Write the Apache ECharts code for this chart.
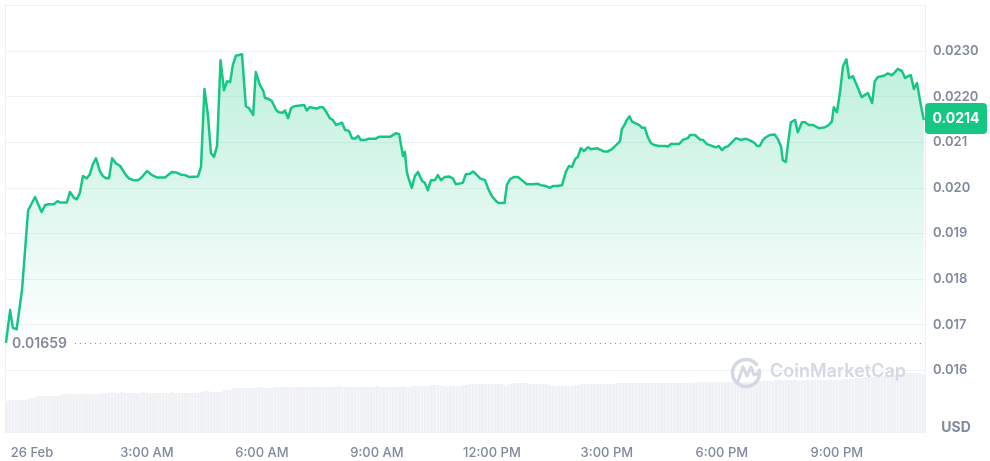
<!DOCTYPE html>
<html>
<head>
<meta charset="utf-8">
<style>html,body{margin:0;padding:0;background:#fff}#c{width:990px;height:461px}</style>
<script src="https://cdn.jsdelivr.net/npm/echarts@6/dist/echarts.min.js"></script>
</head>
<body>
<div id="c"></div>
<script>
const hours = [-0.68,-0.57,-0.50,-0.40,-0.26,-0.16,-0.10,0.08,0.25,0.34,0.42,0.57,0.67,0.73,0.91,0.99,1.10,1.17,1.25,1.33,1.43,1.51,1.59,1.67,1.77,1.85,1.93,2.01,2.09,2.19,2.30,2.45,2.53,2.64,2.77,2.87,3.00,3.13,3.26,3.47,3.65,3.76,3.89,3.99,4.10,4.33,4.41,4.50,4.59,4.67,4.75,4.83,4.92,5.01,5.09,5.17,5.24,5.32,5.48,5.58,5.66,5.77,5.84,5.95,6.03,6.08,6.18,6.26,6.37,6.44,6.55,6.60,6.68,6.76,6.84,7.10,7.17,7.25,7.44,7.51,7.59,7.67,7.77,7.85,7.93,8.09,8.17,8.27,8.35,8.43,8.51,8.58,8.69,8.79,8.97,9.05,9.34,9.39,9.50,9.58,9.68,9.73,9.78,9.84,9.91,9.99,10.07,10.18,10.25,10.33,10.41,10.51,10.59,10.67,10.77,10.88,10.98,11.06,11.24,11.32,11.43,11.51,11.61,11.69,11.82,11.92,12.00,12.11,12.18,12.33,12.39,12.47,12.58,12.68,12.78,12.91,13.07,13.18,13.28,13.41,13.51,13.59,13.70,13.75,13.83,13.93,14.01,14.09,14.17,14.24,14.32,14.40,14.51,14.58,14.74,14.85,14.92,15.03,15.13,15.24,15.34,15.39,15.47,15.52,15.59,15.65,15.73,15.84,15.91,15.99,16.07,16.15,16.23,16.28,16.36,16.51,16.59,16.67,16.88,16.93,16.98,17.11,17.17,17.30,17.35,17.43,17.51,17.61,17.74,17.85,17.92,18.00,18.08,18.16,18.26,18.37,18.42,18.50,18.58,18.65,18.76,18.86,18.92,18.99,19.07,19.15,19.25,19.38,19.46,19.54,19.59,19.67,19.72,19.80,19.91,19.98,20.09,20.17,20.27,20.38,20.43,20.53,20.69,20.79,20.87,20.92,21.00,21.08,21.16,21.25,21.32,21.42,21.52,21.65,21.81,21.92,21.99,22.07,22.23,22.33,22.44,22.59,22.70,22.78,22.85,22.93,23.01,23.09,23.19,23.27];
const pricesE5 = [1660,1732,1693,1690,1776,1886,1951,1980,1947,1962,1964,1964,1971,1968,1968,1991,1978,1975,1989,2026,2021,2030,2052,2065,2037,2026,2021,2021,2065,2054,2048,2028,2021,2017,2017,2024,2037,2028,2023,2023,2035,2034,2029,2028,2024,2025,2046,2217,2160,2076,2068,2092,2280,2214,2234,2232,2269,2290,2293,2179,2175,2160,2254,2225,2214,2197,2195,2190,2171,2166,2165,2170,2153,2175,2179,2182,2170,2177,2174,2177,2177,2168,2153,2149,2138,2143,2127,2125,2109,2108,2114,2105,2105,2108,2108,2112,2112,2108,2120,2118,2070,2079,2035,2017,2000,2026,2035,2015,2011,1995,2017,2017,2028,2017,2024,2025,2021,2008,2011,2030,2031,2036,2028,2021,2017,1995,1982,1971,1967,1967,2006,2019,2024,2024,2017,2008,2008,2009,2006,2004,2000,2004,2004,2000,2006,2035,2048,2046,2063,2068,2087,2081,2089,2085,2087,2083,2080,2080,2085,2094,2102,2129,2140,2149,2157,2146,2142,2138,2132,2132,2111,2098,2094,2097,2092,2092,2091,2096,2096,2098,2105,2109,2116,2116,2120,2106,2105,2096,2092,2089,2092,2083,2089,2091,2100,2109,2111,2105,2107,2107,2103,2098,2092,2092,2105,2111,2116,2117,2107,2092,2061,2057,2094,2144,2149,2122,2144,2144,2138,2138,2140,2131,2133,2138,2146,2177,2166,2208,2267,2282,2241,2245,2225,2199,2208,2186,2234,2243,2246,2251,2247,2261,2256,2241,2245,2247,2217,2230,2182,2149];
const volumes = [
32,33,33,33,33,33,33,34,35,36,
37,37,37,37,37,37,37,38,39,39,
39,39,39,39,39,39,39,39,39,39,
40,40,40,41,40,40,41,40,40,40,
40,40,40,41,40,40,40,40,40,40,
40,40,41,40,40,40,40,40,40,40,
40,41,42,42,41,41,41,41,43,43,
43,45,45,45,45,45,45,45,45,46,
46,45,45,45,46,46,46,46,46,45,
46,46,46,46,46,46,46,46,46,46,
46,46,46,46,47,46,46,46,46,46,
46,46,46,46,46,46,47,46,46,46,
46,46,46,46,47,46,46,47,47,47,
47,47,47,48,48,48,47,47,46,47,
47,47,47,48,48,49,49,49,49,49,
49,49,49,49,49,49,48,49,49,50,
50,50,50,50,49,49,49,49,49,49,
48,47,47,47,47,47,47,47,48,48,
49,49,49,49,49,49,49,49,49,49,
49,50,50,50,50,50,50,50,50,50,
50,50,50,50,50,50,50,50,50,50,
50,50,50,50,50,50,51,51,51,51,
51,51,51,51,51,51,51,51,51,51,
51,51,51,51,51,52,52,52,52,52,
52,53,53,53,53,53,53,53,53,53,
53,53,53,53,53,53,53,53,53,53,
53,53,54,54,54,54,55,55,55,56,
56,56,56,57,57,57,57,58,58,58,
59,60,60,60,60,60,60,59
];
const priceTicks = [0.024,0.023,0.022,0.021,0.020,0.019,0.018,0.017,0.016];
const priceTickLabels = ['', '0.0230','0.0220','0.021','0.020','0.019','0.018','0.017','0.016'];
const timeTicks = [0,3,6,9,12,15,18,21];
const timeLabels = ['26 Feb','3:00 AM','6:00 AM','9:00 AM','12:00 PM','3:00 PM','6:00 PM','9:00 PM'];
const openPrice = 0.01659;
const lastPriceLabel = '0.0214';
const axisUnit = 'USD';
const brand = 'CoinMarketCap';

const GREEN = '#16c784', GREY = '#808a9d', LINE = '#eff2f5';
const FONT = 'Inter, "Noto Sans", sans-serif';
const chart = echarts.init(document.getElementById('c'), null, {renderer:'canvas'});
chart.setOption({
  animation:false,
  backgroundColor:'#fff',
  grid:{left:5, right:65, top:5.5, bottom:28},
  xAxis:[{
    type:'value', min:-0.704, max:23.3,
    axisLine:{show:false}, axisTick:{show:false}, splitLine:{show:false},
    axisLabel:{
      customValues:timeTicks, color:GREY, fontFamily:FONT, fontSize:13, fontWeight:500, margin:14, hideOverlap:false,
      formatter:v=>timeLabels[timeTicks.indexOf(v)]||''
    }
  },{
    type:'category', data:volumes.map((_,i)=>i), show:false
  }],
  yAxis:[{
    type:'value', position:'right', min:0.014625, max:0.024,
    axisLine:{show:true,onZero:false,lineStyle:{color:LINE,width:1}},
    axisTick:{show:false, customValues:priceTicks},
    splitLine:{show:true,lineStyle:{color:LINE,width:1}},
    axisLabel:{
      customValues:priceTicks, color:GREY, fontFamily:FONT, fontSize:13, fontWeight:600, margin:8,
      formatter:v=>priceTickLabels[priceTicks.indexOf(v)]||''
    }
  },{
    type:'value', position:'left', min:0, max:427.5,
    axisLine:{show:true,onZero:false,lineStyle:{color:LINE,width:1}},
    axisTick:{show:false}, axisLabel:{show:false}, splitLine:{show:false}
  }],
  series:[{
    type:'bar', name:'Volume', xAxisIndex:1, yAxisIndex:1, data:volumes,
    barCategoryGap:'10%', itemStyle:{color:'#eff1f5'}, silent:true, z:1
  },{
    type:'line', name:'Price', xAxisIndex:0, yAxisIndex:0,
    data:hours.map((h,i)=>[h,pricesE5[i]/1e5]),
    showSymbol:false, symbol:'none', smooth:false, silent:true, z:3,
    lineStyle:{color:GREEN,width:2.5,join:'round'},
    areaStyle:{
      origin:openPrice,
      color:new echarts.graphic.LinearGradient(0,0,0,1,[
        {offset:0,color:'rgba(22,199,132,0.4)'},
        {offset:1,color:'rgba(22,199,132,0)'}
      ])
    },
    markLine:{
      silent:true, symbol:'none', animation:false,
      lineStyle:{color:GREY,width:1,type:[1,4]},
      label:{show:true,position:'start',distance:8,padding:[5,0,0,0],formatter:String(openPrice),color:GREY,fontFamily:FONT,fontSize:14,fontWeight:600},
      data:[[{coord:[1.12,openPrice]},{coord:[23.3,openPrice]}]]
    }
  }],
  graphic:[
    {type:'arc',silent:true,z:50,shape:{cx:746,cy:373,r:13.5,startAngle:-0.2,endAngle:5.6},style:{stroke:'#d3d8e2',lineWidth:3.5,fill:null,lineCap:'round'}},
    {type:'polyline',silent:true,z:50,shape:{points:[[738,381],[743,367],[747,376],[751,367],[754,375],[759,373]]},style:{stroke:'#d3d8e2',lineWidth:3,fill:null,lineJoin:'round',lineCap:'round'}},
    {type:'text',silent:true,z:50,left:770,top:363,style:{text:brand,fill:'#d3d8e2',font:'600 18px '+FONT}},
    {type:'rect',silent:true,z:60,shape:{x:925,y:103,width:62,height:31,r:4},style:{fill:GREEN}},
    {type:'text',silent:true,z:61,x:956,y:119,style:{text:lastPriceLabel,fill:'#fff',font:'700 14px '+FONT,align:'center',verticalAlign:'middle'}},
    {type:'text',silent:true,z:61,x:956,y:428,style:{text:axisUnit,fill:GREY,font:'700 14px '+FONT,align:'center',verticalAlign:'middle'}}
  ]
});
</script>
</body>
</html>
